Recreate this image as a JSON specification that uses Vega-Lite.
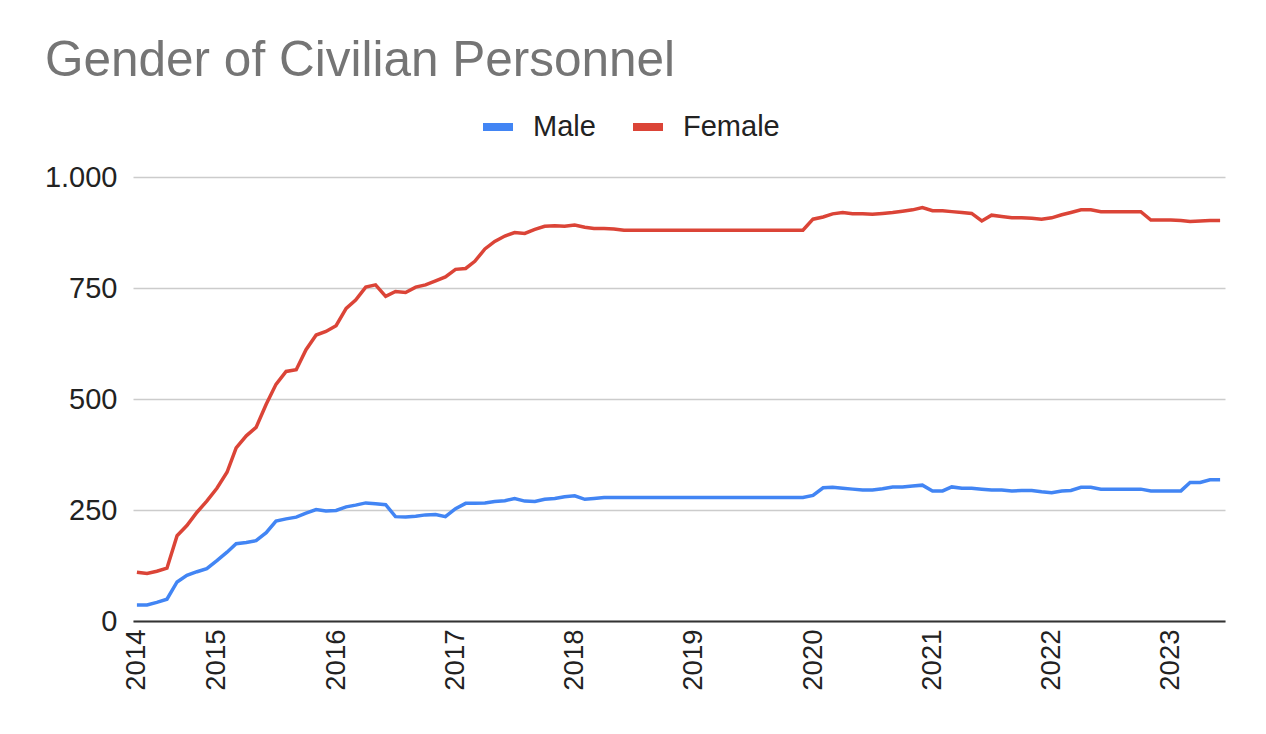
{
  "$schema": "https://vega.github.io/schema/vega-lite/v6.json",
  "width": 1092,
  "height": 444,
  "autosize": {"type": "none"},
  "padding": {"left": 133, "top": 177, "right": 41, "bottom": 113},
  "background": "white",
  "title": {"text": "Gender of Civilian Personnel", "anchor": "start", "frame": "group", "dx": -88, "offset": 22, "fontSize": 49.5, "font": "Liberation Sans", "fontWeight": "normal", "color": "#757575"},
  "data": {"values": [
    {"d":"2014-05-01","g":"Male","v":36},{"d":"2014-06-01","g":"Male","v":36},{"d":"2014-07-01","g":"Male","v":42},{"d":"2014-08-01","g":"Male","v":49},{"d":"2014-09-01","g":"Male","v":88},{"d":"2014-10-01","g":"Male","v":103},{"d":"2014-11-01","g":"Male","v":111},{"d":"2014-12-01","g":"Male","v":118},
    {"d":"2015-01-01","g":"Male","v":136},{"d":"2015-02-01","g":"Male","v":155},{"d":"2015-03-01","g":"Male","v":174},{"d":"2015-04-01","g":"Male","v":177},{"d":"2015-05-01","g":"Male","v":181},{"d":"2015-06-01","g":"Male","v":199},{"d":"2015-07-01","g":"Male","v":225},{"d":"2015-08-01","g":"Male","v":230},{"d":"2015-09-01","g":"Male","v":234},{"d":"2015-10-01","g":"Male","v":243},{"d":"2015-11-01","g":"Male","v":251},{"d":"2015-12-01","g":"Male","v":248},
    {"d":"2016-01-01","g":"Male","v":249},{"d":"2016-02-01","g":"Male","v":257},{"d":"2016-03-01","g":"Male","v":261},{"d":"2016-04-01","g":"Male","v":266},{"d":"2016-05-01","g":"Male","v":264},{"d":"2016-06-01","g":"Male","v":262},{"d":"2016-07-01","g":"Male","v":235},{"d":"2016-08-01","g":"Male","v":234},{"d":"2016-09-01","g":"Male","v":236},{"d":"2016-10-01","g":"Male","v":239},{"d":"2016-11-01","g":"Male","v":240},{"d":"2016-12-01","g":"Male","v":235},
    {"d":"2017-01-01","g":"Male","v":253},{"d":"2017-02-01","g":"Male","v":265},{"d":"2017-03-01","g":"Male","v":265},{"d":"2017-04-01","g":"Male","v":266},{"d":"2017-05-01","g":"Male","v":269},{"d":"2017-06-01","g":"Male","v":271},{"d":"2017-07-01","g":"Male","v":276},{"d":"2017-08-01","g":"Male","v":270},{"d":"2017-09-01","g":"Male","v":269},{"d":"2017-10-01","g":"Male","v":274},{"d":"2017-11-01","g":"Male","v":276},{"d":"2017-12-01","g":"Male","v":280},
    {"d":"2018-01-01","g":"Male","v":282},{"d":"2018-02-01","g":"Male","v":274},{"d":"2018-03-01","g":"Male","v":276},{"d":"2018-04-01","g":"Male","v":278},{"d":"2018-05-01","g":"Male","v":278},{"d":"2018-06-01","g":"Male","v":278},{"d":"2018-07-01","g":"Male","v":278},{"d":"2018-08-01","g":"Male","v":278},{"d":"2018-09-01","g":"Male","v":278},{"d":"2018-10-01","g":"Male","v":278},{"d":"2018-11-01","g":"Male","v":278},{"d":"2018-12-01","g":"Male","v":278},
    {"d":"2019-01-01","g":"Male","v":278},{"d":"2019-02-01","g":"Male","v":278},{"d":"2019-03-01","g":"Male","v":278},{"d":"2019-04-01","g":"Male","v":278},{"d":"2019-05-01","g":"Male","v":278},{"d":"2019-06-01","g":"Male","v":278},{"d":"2019-07-01","g":"Male","v":278},{"d":"2019-08-01","g":"Male","v":278},{"d":"2019-09-01","g":"Male","v":278},{"d":"2019-10-01","g":"Male","v":278},{"d":"2019-11-01","g":"Male","v":278},{"d":"2019-12-01","g":"Male","v":278},
    {"d":"2020-01-01","g":"Male","v":283},{"d":"2020-02-01","g":"Male","v":300},{"d":"2020-03-01","g":"Male","v":301},{"d":"2020-04-01","g":"Male","v":299},{"d":"2020-05-01","g":"Male","v":297},{"d":"2020-06-01","g":"Male","v":295},{"d":"2020-07-01","g":"Male","v":295},{"d":"2020-08-01","g":"Male","v":298},{"d":"2020-09-01","g":"Male","v":302},{"d":"2020-10-01","g":"Male","v":302},{"d":"2020-11-01","g":"Male","v":304},{"d":"2020-12-01","g":"Male","v":306},
    {"d":"2021-01-01","g":"Male","v":293},{"d":"2021-02-01","g":"Male","v":293},{"d":"2021-03-01","g":"Male","v":302},{"d":"2021-04-01","g":"Male","v":299},{"d":"2021-05-01","g":"Male","v":299},{"d":"2021-06-01","g":"Male","v":297},{"d":"2021-07-01","g":"Male","v":295},{"d":"2021-08-01","g":"Male","v":295},{"d":"2021-09-01","g":"Male","v":293},{"d":"2021-10-01","g":"Male","v":294},{"d":"2021-11-01","g":"Male","v":294},{"d":"2021-12-01","g":"Male","v":291},
    {"d":"2022-01-01","g":"Male","v":289},{"d":"2022-02-01","g":"Male","v":293},{"d":"2022-03-01","g":"Male","v":294},{"d":"2022-04-01","g":"Male","v":301},{"d":"2022-05-01","g":"Male","v":301},{"d":"2022-06-01","g":"Male","v":297},{"d":"2022-07-01","g":"Male","v":297},{"d":"2022-08-01","g":"Male","v":297},{"d":"2022-09-01","g":"Male","v":297},{"d":"2022-10-01","g":"Male","v":297},{"d":"2022-11-01","g":"Male","v":293},{"d":"2022-12-01","g":"Male","v":293},
    {"d":"2023-01-01","g":"Male","v":293},{"d":"2023-02-01","g":"Male","v":293},{"d":"2023-03-01","g":"Male","v":312},{"d":"2023-04-01","g":"Male","v":312},{"d":"2023-05-01","g":"Male","v":318},{"d":"2023-06-01","g":"Male","v":318},
    {"d":"2014-05-01","g":"Female","v":110},{"d":"2014-06-01","g":"Female","v":107},{"d":"2014-07-01","g":"Female","v":112},{"d":"2014-08-01","g":"Female","v":119},{"d":"2014-09-01","g":"Female","v":192},{"d":"2014-10-01","g":"Female","v":215},{"d":"2014-11-01","g":"Female","v":245},{"d":"2014-12-01","g":"Female","v":270},
    {"d":"2015-01-01","g":"Female","v":299},{"d":"2015-02-01","g":"Female","v":335},{"d":"2015-03-01","g":"Female","v":390},{"d":"2015-04-01","g":"Female","v":417},{"d":"2015-05-01","g":"Female","v":436},{"d":"2015-06-01","g":"Female","v":488},{"d":"2015-07-01","g":"Female","v":533},{"d":"2015-08-01","g":"Female","v":562},{"d":"2015-09-01","g":"Female","v":566},{"d":"2015-10-01","g":"Female","v":611},{"d":"2015-11-01","g":"Female","v":644},{"d":"2015-12-01","g":"Female","v":652},
    {"d":"2016-01-01","g":"Female","v":665},{"d":"2016-02-01","g":"Female","v":704},{"d":"2016-03-01","g":"Female","v":723},{"d":"2016-04-01","g":"Female","v":752},{"d":"2016-05-01","g":"Female","v":757},{"d":"2016-06-01","g":"Female","v":731},{"d":"2016-07-01","g":"Female","v":742},{"d":"2016-08-01","g":"Female","v":740},{"d":"2016-09-01","g":"Female","v":752},{"d":"2016-10-01","g":"Female","v":757},{"d":"2016-11-01","g":"Female","v":766},{"d":"2016-12-01","g":"Female","v":775},
    {"d":"2017-01-01","g":"Female","v":792},{"d":"2017-02-01","g":"Female","v":794},{"d":"2017-03-01","g":"Female","v":810},{"d":"2017-04-01","g":"Female","v":838},{"d":"2017-05-01","g":"Female","v":855},{"d":"2017-06-01","g":"Female","v":867},{"d":"2017-07-01","g":"Female","v":875},{"d":"2017-08-01","g":"Female","v":873},{"d":"2017-09-01","g":"Female","v":882},{"d":"2017-10-01","g":"Female","v":889},{"d":"2017-11-01","g":"Female","v":890},{"d":"2017-12-01","g":"Female","v":889},
    {"d":"2018-01-01","g":"Female","v":892},{"d":"2018-02-01","g":"Female","v":887},{"d":"2018-03-01","g":"Female","v":884},{"d":"2018-04-01","g":"Female","v":884},{"d":"2018-05-01","g":"Female","v":883},{"d":"2018-06-01","g":"Female","v":880},{"d":"2018-07-01","g":"Female","v":880},{"d":"2018-08-01","g":"Female","v":880},{"d":"2018-09-01","g":"Female","v":880},{"d":"2018-10-01","g":"Female","v":880},{"d":"2018-11-01","g":"Female","v":880},{"d":"2018-12-01","g":"Female","v":880},
    {"d":"2019-01-01","g":"Female","v":880},{"d":"2019-02-01","g":"Female","v":880},{"d":"2019-03-01","g":"Female","v":880},{"d":"2019-04-01","g":"Female","v":880},{"d":"2019-05-01","g":"Female","v":880},{"d":"2019-06-01","g":"Female","v":880},{"d":"2019-07-01","g":"Female","v":880},{"d":"2019-08-01","g":"Female","v":880},{"d":"2019-09-01","g":"Female","v":880},{"d":"2019-10-01","g":"Female","v":880},{"d":"2019-11-01","g":"Female","v":880},{"d":"2019-12-01","g":"Female","v":880},
    {"d":"2020-01-01","g":"Female","v":905},{"d":"2020-02-01","g":"Female","v":910},{"d":"2020-03-01","g":"Female","v":917},{"d":"2020-04-01","g":"Female","v":920},{"d":"2020-05-01","g":"Female","v":917},{"d":"2020-06-01","g":"Female","v":917},{"d":"2020-07-01","g":"Female","v":916},{"d":"2020-08-01","g":"Female","v":918},{"d":"2020-09-01","g":"Female","v":920},{"d":"2020-10-01","g":"Female","v":923},{"d":"2020-11-01","g":"Female","v":926},{"d":"2020-12-01","g":"Female","v":931},
    {"d":"2021-01-01","g":"Female","v":924},{"d":"2021-02-01","g":"Female","v":924},{"d":"2021-03-01","g":"Female","v":922},{"d":"2021-04-01","g":"Female","v":920},{"d":"2021-05-01","g":"Female","v":918},{"d":"2021-06-01","g":"Female","v":901},{"d":"2021-07-01","g":"Female","v":914},{"d":"2021-08-01","g":"Female","v":911},{"d":"2021-09-01","g":"Female","v":908},{"d":"2021-10-01","g":"Female","v":908},{"d":"2021-11-01","g":"Female","v":907},{"d":"2021-12-01","g":"Female","v":905},
    {"d":"2022-01-01","g":"Female","v":908},{"d":"2022-02-01","g":"Female","v":915},{"d":"2022-03-01","g":"Female","v":920},{"d":"2022-04-01","g":"Female","v":926},{"d":"2022-05-01","g":"Female","v":926},{"d":"2022-06-01","g":"Female","v":922},{"d":"2022-07-01","g":"Female","v":922},{"d":"2022-08-01","g":"Female","v":922},{"d":"2022-09-01","g":"Female","v":922},{"d":"2022-10-01","g":"Female","v":922},{"d":"2022-11-01","g":"Female","v":903},{"d":"2022-12-01","g":"Female","v":903},
    {"d":"2023-01-01","g":"Female","v":903},{"d":"2023-02-01","g":"Female","v":902},{"d":"2023-03-01","g":"Female","v":900},{"d":"2023-04-01","g":"Female","v":901},{"d":"2023-05-01","g":"Female","v":902},{"d":"2023-06-01","g":"Female","v":902}
  ]},
  "mark": {"type": "line", "strokeWidth": 3.5, "interpolate": "linear"},
  "encoding": {
    "x": {
      "field": "d", "type": "temporal",
      "scale": {"type": "utc", "domain": [{"year": 2014, "month": 4, "date": 19, "utc": true}, {"year": 2023, "month": 6, "date": 16, "utc": true}]},
      "axis": {
        "title": null,
        "values": [
          {"year": 2014, "month": 5, "date": 1, "utc": true},
          {"year": 2015, "month": 1, "date": 1, "utc": true},
          {"year": 2016, "month": 1, "date": 1, "utc": true},
          {"year": 2017, "month": 1, "date": 1, "utc": true},
          {"year": 2018, "month": 1, "date": 1, "utc": true},
          {"year": 2019, "month": 1, "date": 1, "utc": true},
          {"year": 2020, "month": 1, "date": 1, "utc": true},
          {"year": 2021, "month": 1, "date": 1, "utc": true},
          {"year": 2022, "month": 1, "date": 1, "utc": true},
          {"year": 2023, "month": 1, "date": 1, "utc": true}
        ],
        "labelExpr": "utcFormat(datum.value, '%Y')",
        "labelAngle": -90,
        "labelOverlap": false,
        "labelFlush": false,
        "ticks": false,
        "grid": false,
        "domainColor": "#333333",
        "domainWidth": 2,
        "labelFontSize": 27.5,
        "labelFont": "Liberation Sans",
        "labelColor": "#222222",
        "labelPadding": 8
      }
    },
    "y": {
      "field": "v", "type": "quantitative",
      "scale": {"domain": [0, 1000], "nice": false},
      "axis": {
        "title": null,
        "values": [0, 250, 500, 750, 1000],
        "labelExpr": "replace(format(datum.value, ','), ',', '.')",
        "domain": false,
        "ticks": false,
        "gridColor": "#cccccc",
        "gridWidth": 1.5,
        "labelFontSize": 29,
        "labelFont": "Liberation Sans",
        "labelColor": "#222222",
        "labelPadding": 16
      }
    },
    "color": {
      "field": "g", "type": "nominal",
      "scale": {"domain": ["Male", "Female"], "range": ["#4285F4", "#DB4437"]},
      "legend": {
        "title": null,
        "orient": "none",
        "legendX": 346,
        "legendY": -69,
        "direction": "horizontal",
        "symbolType": "stroke",
        "symbolStrokeWidth": 8,
        "symbolSize": 900,
        "labelFontSize": 29,
        "labelFont": "Liberation Sans",
        "labelColor": "#222222",
        "labelOffset": 16,
        "columnPadding": 21
      }
    }
  },
  "config": {"view": {"stroke": null}, "font": "Liberation Sans"}
}
